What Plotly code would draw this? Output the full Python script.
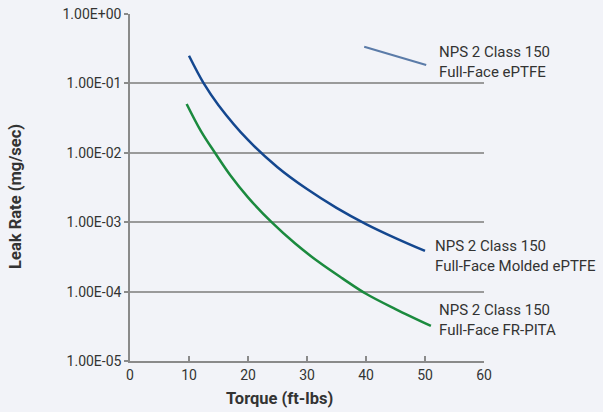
import plotly.graph_objects as go

# Data
torque_molded = [10, 12.5, 15, 20, 25, 30, 35, 40, 45, 50]
leak_molded = [0.25, 0.10, 0.0486, 0.0153, 0.0062, 0.0030, 0.00161, 0.00094, 0.00059, 0.000385]

torque_frpita = [9.6, 12, 14.4, 17, 20, 24, 28, 32, 36, 40, 45, 51]
leak_frpita = [0.0505, 0.0207, 0.010, 0.00474, 0.00228, 0.001, 0.000492, 0.000266, 0.000155, 0.000093, 0.000056, 0.000032]

torque_eptfe = [39.7, 50.2]
leak_eptfe = [0.338, 0.184]

ytick_vals = [1e-5, 1e-4, 1e-3, 1e-2, 1e-1, 1e0]
ytick_text = ["1.00E-05", "1.00E-04", "1.00E-03", "1.00E-02", "1.00E-01", "1.00E+00"]
xtick_vals = [0, 10, 20, 30, 40, 50, 60]

labels = ["NPS 2 Class 150<br>Full-Face ePTFE",
          "NPS 2 Class 150<br>Full-Face Molded ePTFE",
          "NPS 2 Class 150<br>Full-Face FR-PITA"]
label_x = [52.0, 51.3, 52.0]
label_y = [-0.69, -3.49, -4.41]

FONT = "Roboto, Noto Sans, sans-serif"
TXT = "#333333"
BG = "#f2f3f8"

fig = go.Figure()
fig.add_trace(go.Scatter(x=torque_eptfe, y=leak_eptfe, mode="lines",
                         line=dict(color="#5b7ba8", width=2.2, shape="spline")))
fig.add_trace(go.Scatter(x=torque_molded, y=leak_molded, mode="lines",
                         line=dict(color="#14478f", width=2.5, shape="spline")))
fig.add_trace(go.Scatter(x=torque_frpita, y=leak_frpita, mode="lines",
                         line=dict(color="#1b8a3e", width=2.5, shape="spline")))

for t, lx, ly in zip(labels, label_x, label_y):
    fig.add_annotation(x=lx, y=ly, xref="x", yref="y", text=t, showarrow=False,
                       xanchor="left", yanchor="middle", align="left",
                       font=dict(family=FONT, size=15, color=TXT))

fig.add_annotation(x=0.421, y=-0.107, xref="paper", yref="paper",
                   text="<b>Torque (ft-lbs)</b>", showarrow=False,
                   xanchor="center", yanchor="middle",
                   font=dict(family=FONT, size=16.5, color=TXT))
fig.add_annotation(x=-0.322, y=0.473, xref="paper", yref="paper",
                   text="<b>Leak Rate (mg/sec)</b>", showarrow=False, textangle=-90,
                   xanchor="center", yanchor="middle",
                   font=dict(family=FONT, size=16.5, color=TXT))

fig.update_layout(
    width=603, height=412,
    margin=dict(l=130, r=119, t=14, b=51, autoexpand=False),
    paper_bgcolor=BG, plot_bgcolor=BG,
    showlegend=False,
    font=dict(family=FONT, size=14, color=TXT),
    xaxis=dict(range=[0, 60], tickvals=xtick_vals, showgrid=False, zeroline=False,
               automargin=False,
               showline=True, linecolor="#8a8a8a", linewidth=1.5,
               ticks="inside", ticklen=5, tickcolor="#8a8a8a", tickwidth=1.5,
               tickfont=dict(family=FONT, size=14, color=TXT)),
    yaxis=dict(type="log", range=[-5, 0], tickvals=ytick_vals, ticktext=ytick_text,
               automargin=False,
               showgrid=True, gridcolor="#9a9a9a", gridwidth=1.5, zeroline=False,
               showline=True, linecolor="#8a8a8a", linewidth=1.5,
               ticks="outside", ticklen=4, tickcolor="#8a8a8a", tickwidth=1.5,
               tickfont=dict(family=FONT, size=14, color=TXT)),
)

fig.write_html("out.html", config={"displayModeBar": False},
               post_script="document.body.style.margin='0px';document.body.style.background='%s';" % BG)
